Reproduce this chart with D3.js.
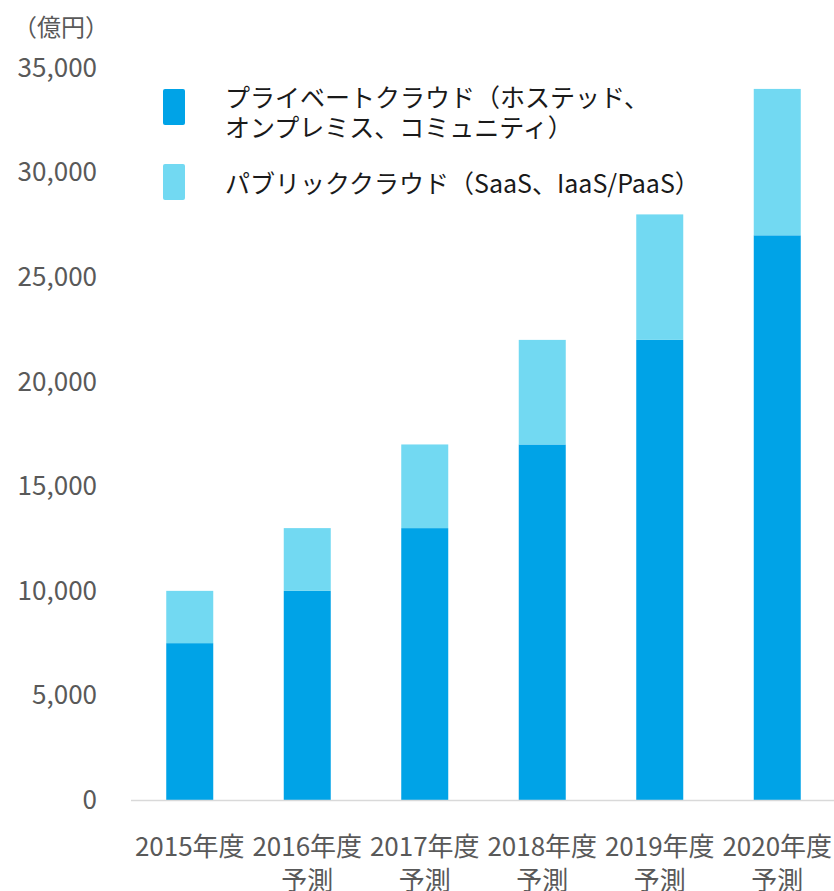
<!DOCTYPE html>
<html>
<head>
<meta charset="utf-8">
<script src="https://cdn.jsdelivr.net/npm/d3@7"></script>
<style>
  body { margin: 0; background: #fff; }
  svg text { font-family: "Noto Sans CJK JP", "Noto Sans", sans-serif; }
</style>
</head>
<body>
<div id="chart"></div>
<script>
// data (億円)
const years = ["2015年度", "2016年度", "2017年度", "2018年度", "2019年度", "2020年度"];
const subLabels = ["", "予測", "予測", "予測", "予測", "予測"];
const privateCloud = [7500, 10000, 13000, 17000, 22000, 27000];
const publicCloud = [2500, 3000, 4000, 5000, 6000, 7000];
const yTicks = [0, 5000, 10000, 15000, 20000, 25000, 30000, 35000];
const seriesNames = [
  ["プライベートクラウド（ホステッド、", "オンプレミス、コミュニティ）"],
  ["パブリッククラウド（SaaS、IaaS/PaaS）"]
];
const colors = ["#00a3e7", "#72d9f2"];

const width = 834, height = 891;

const svg = d3.select("#chart").append("svg")
  .attr("width", width)
  .attr("height", height);

const rows = years.map((y, i) => ({year: y, sub: subLabels[i], priv: privateCloud[i], pub: publicCloud[i]}));
const stacked = d3.stack().keys(["priv", "pub"])(rows);

const x = d3.scaleBand()
  .domain(years)
  .range([131, 836])
  .paddingInner(0.6)
  .paddingOuter(0.3);

const yScale = d3.scaleLinear()
  .domain([0, 35000])
  .range([800, 68]);

// bars
svg.selectAll("g.series")
  .data(stacked)
  .enter().append("g")
  .attr("class", "series")
  .attr("fill", (d, i) => colors[i])
  .selectAll("rect")
  .data(d => d)
  .enter().append("rect")
  .attr("x", d => x(d.data.year))
  .attr("width", x.bandwidth())
  .attr("y", d => yScale(d[1]))
  .attr("height", d => yScale(d[0]) - yScale(d[1]));

// baseline
svg.append("line")
  .attr("x1", 131).attr("x2", 834)
  .attr("y1", yScale(0) + 0.5).attr("y2", yScale(0) + 0.5)
  .attr("stroke", "#d9d9d9")
  .attr("stroke-width", 1.5);

// y axis labels
const yAxis = d3.axisLeft(yScale)
  .tickValues(yTicks)
  .tickFormat(d3.format(","))
  .tickSize(0)
  .tickPadding(0);

const yG = svg.append("g")
  .attr("transform", "translate(97,0)")
  .call(yAxis);
yG.select(".domain").remove();
yG.selectAll("text")
  .attr("font-size", 26)
  .attr("fill", "#595959")
  .attr("font-family", "'Noto Sans CJK JP', sans-serif");

// unit
svg.append("text")
  .attr("x", 13)
  .attr("y", 25)
  .attr("dominant-baseline", "central")
  .attr("font-size", 24)
  .attr("fill", "#595959")
  .text("（億円）");

// x axis labels
const xAxis = d3.axisBottom(x).tickSize(0).tickPadding(0);
const xG = svg.append("g")
  .attr("transform", "translate(0,800)")
  .call(xAxis);
xG.select(".domain").remove();
xG.selectAll(".tick text").remove();
xG.selectAll(".tick").each(function(d, i) {
  const t = d3.select(this).append("text")
    .attr("text-anchor", "middle")
    .attr("font-size", 26)
    .attr("fill", "#595959")
    .attr("font-family", "'Noto Sans CJK JP', sans-serif");
  t.append("tspan").attr("x", 0).attr("y", 44)
    .attr("dominant-baseline", "central").text(d);
  if (subLabels[i]) {
    t.append("tspan").attr("x", 0).attr("y", 78)
      .attr("dominant-baseline", "central").text(subLabels[i]);
  }
});

// legend
const legendY = [107, 182];
seriesNames.forEach((lines, i) => {
  const g = svg.append("g").attr("transform", `translate(163,${legendY[i]})`);
  g.append("rect")
    .attr("x", 0).attr("y", -18)
    .attr("width", 22).attr("height", 36)
    .attr("rx", 2)
    .attr("fill", colors[i]);
  const off = lines.length > 1 ? -11 : 0;
  lines.forEach((ln, j) => {
    g.append("text")
      .attr("x", 62)
      .attr("y", off + j * 30)
      .attr("dominant-baseline", "central")
      .attr("font-size", 25)
      .attr("fill", "#1a1a1a")
      .text(ln);
  });
});
</script>
</body>
</html>
